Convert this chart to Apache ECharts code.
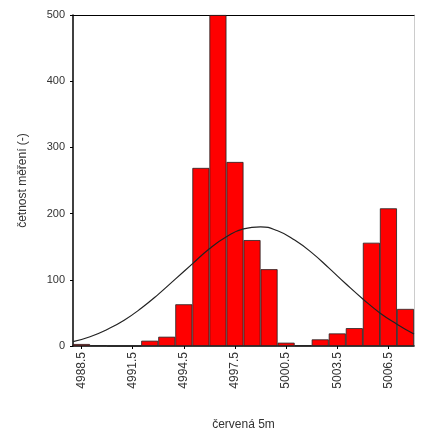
<!DOCTYPE html>
<html>
<head>
<meta charset="utf-8">
<script src="https://cdn.jsdelivr.net/npm/echarts@6/dist/echarts.min.js"></script>
<style>html,body{margin:0;padding:0;background:#fff}#c{width:433px;height:434px}</style>
</head>
<body>
<div id="c"></div>
<script>
var categories = ['4988.5','4989.5','4990.5','4991.5','4992.5','4993.5','4994.5','4995.5','4996.5','4997.5','4998.5','4999.5','5000.5','5001.5','5002.5','5003.5','5004.5','5005.5','5006.5','5007.5'];
var counts = [3,1,0,0,8,14,63,269,500,278,160,116,5,1,10,19,27,156,208,56];
var curveX = [4988,4989,4990,4991,4992,4993,4994,4995,4996,4997,4998,4999,5000,5001,5002,5003,5004,5005,5006,5007,5008];
var curveY = [6.5,14,25,39,57,78,101,124,147,165,177,180,174,160,141,118,94,71,50,33,18];
var yTicks = [0,100,200,300,400,500];

var font = 'Liberation Sans, Arial, sans-serif';
var chart = echarts.init(document.getElementById('c'));
chart.setOption({
  animation: false,
  grid: {left: 73, right: 19, top: 15, bottom: 88, outerBoundsMode: 'none', containLabel: false},
  xAxis: [
    {type: 'category', data: categories, position: 'bottom',
     axisLine: {lineStyle: {color: '#000', width: 1.5}},
     axisTick: {show: true, alignWithLabel: true, length: 3, lineStyle: {color: '#000'}},
     axisLabel: {interval: 2, rotate: 90, margin: 6, color: '#333', fontFamily: font, fontSize: 12},
     name: 'červená 5m', nameLocation: 'middle', nameGap: 73,
     nameTextStyle: {color: '#333', fontFamily: font, fontSize: 12}},
    {type: 'value', min: 4988, max: 5008, show: false},
    {type: 'category', data: categories, position: 'top',
     axisLine: {show: true, lineStyle: {color: '#000', width: 1.2}},
     axisTick: {show: false}, axisLabel: {show: false}}
  ],
  yAxis: [
    {type: 'value', min: 0, max: 500, interval: 100,
     axisLine: {show: true, lineStyle: {color: '#000', width: 1.5}},
     axisTick: {show: true, length: 3, lineStyle: {color: '#000'}},
     splitLine: {show: false},
     axisLabel: {color: '#333', fontFamily: font, fontSize: 11, margin: 8,
       formatter: function (v) { return yTicks.indexOf(v) >= 0 ? String(v) : ''; }},
     name: 'četnost měření (-)', nameLocation: 'middle', nameGap: 44,
     nameTextStyle: {color: '#333', fontFamily: font, fontSize: 12}},
    {type: 'value', min: 0, max: 500, position: 'right',
     axisLine: {show: true, lineStyle: {color: '#ccc', width: 1}},
     axisTick: {show: false}, axisLabel: {show: false}, splitLine: {show: false}}
  ],
  series: [
    {type: 'bar', data: counts, xAxisIndex: 0, yAxisIndex: 0,
     barCategoryGap: '0%',
     itemStyle: {color: '#ff0000', borderColor: '#222', borderWidth: 0.8}},
    {type: 'line', xAxisIndex: 1, yAxisIndex: 0, smooth: true, symbol: 'none',
     data: curveX.map(function (x, i) { return [x, curveY[i]]; }),
     lineStyle: {color: '#222', width: 1.2}, z: 5}
  ]
});
</script>
</body>
</html>
